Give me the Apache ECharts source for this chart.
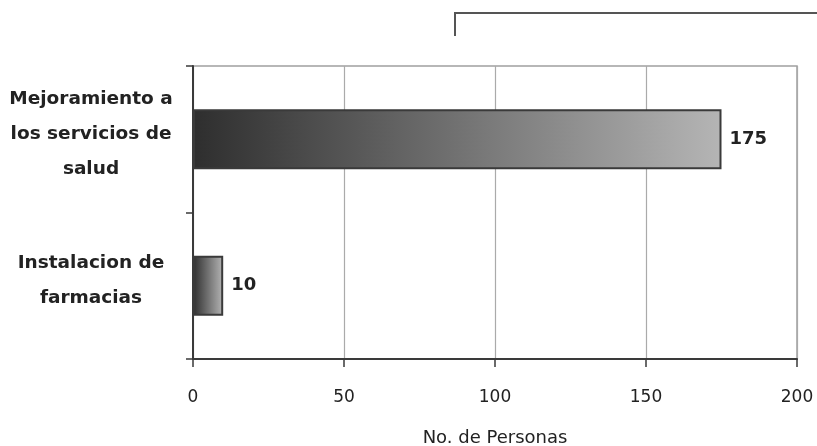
<!DOCTYPE html>
<html>
<head>
<meta charset="utf-8">
<script src="https://cdn.jsdelivr.net/npm/echarts@6/dist/echarts.min.js"></script>
<style>
  html, body { margin: 0; padding: 0; background: #fff; }
  #chart { width: 817px; height: 446px; }
</style>
</head>
<body>
<div id="chart"></div>
<script>
const categories = ['Mejoramiento a\nlos servicios de\nsalud', 'Instalacion de\nfarmacias'];
const values = [175, 10];
const axisName = 'No. de Personas';
const xMin = 0, xMax = 200, xInterval = 50;

const chart = echarts.init(document.getElementById('chart'), null, { renderer: 'canvas' });
const font = 'DejaVu Sans';
chart.setOption({
  animation: false,
  backgroundColor: '#ffffff',
  grid: {
    left: 193, right: 20, top: 66, bottom: 87,
    containLabel: false, outerBoundsMode: 'none',
    show: true, borderColor: '#a0a0a0', borderWidth: 1.5
  },
  graphic: [{
    type: 'polyline',
    shape: { points: [[455, 36], [455, 13], [817, 13]] },
    style: { stroke: '#555', lineWidth: 2, fill: null }
  }],
  xAxis: {
    type: 'value', min: xMin, max: xMax, interval: xInterval,
    name: axisName, nameLocation: 'middle', nameGap: 70,
    nameTextStyle: { fontFamily: font, fontSize: 18, color: '#222' },
    axisLine: { show: true, lineStyle: { color: '#3a3a3a', width: 2 } },
    axisTick: { show: true, length: 8, lineStyle: { color: '#3a3a3a', width: 1.5 } },
    axisLabel: { fontFamily: font, fontSize: 17, color: '#222', margin: 30 },
    splitLine: { show: true, lineStyle: { color: '#aaaaaa', width: 1.2 } }
  },
  yAxis: {
    type: 'category', data: categories, inverse: true,
    axisLine: { show: true, lineStyle: { color: '#3a3a3a', width: 2 } },
    axisTick: { show: true, length: 7, lineStyle: { color: '#3a3a3a', width: 1.5 } },
    axisLabel: {
      align: 'center', margin: 102,
      formatter: v => v.split('\n').map(l => '{a|' + l + '}').join('\n') + '\n{s| }',
      rich: {
        a: { fontFamily: font, fontSize: 18.5, fontWeight: 'bold', color: '#222', lineHeight: 35, align: 'center' },
        s: { fontSize: 1, lineHeight: 11 }
      }
    },
    splitLine: { show: false }
  },
  series: [{
    type: 'bar',
    data: values,
    barWidth: '41%',
    itemStyle: {
      color: new echarts.graphic.LinearGradient(0, 0, 1, 0, [
        { offset: 0, color: '#2e2e2e' },
        { offset: 1, color: '#b5b5b5' }
      ]),
      borderColor: '#3a3a3a',
      borderWidth: 2
    },
    label: {
      show: true, position: 'right', distance: 8,
      fontFamily: font, fontSize: 18, fontWeight: 'bold', color: '#222'
    }
  }]
});
</script>
</body>
</html>
